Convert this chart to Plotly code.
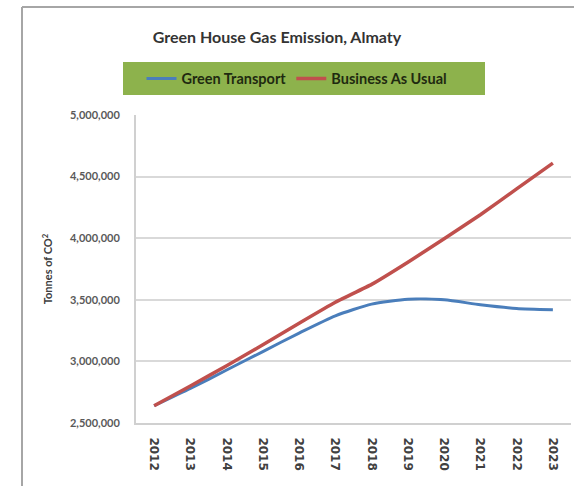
import plotly.graph_objects as go

years = ["2012", "2013", "2014", "2015", "2016", "2017", "2018", "2019", "2020", "2021", "2022", "2023"]
green_transport = [2640000, 2780000, 2930000, 3080000, 3230000, 3370000, 3465000, 3505000, 3500000, 3460000, 3430000, 3420000]
business_as_usual = [2640000, 2800000, 2965000, 3135000, 3310000, 3480000, 3625000, 3805000, 3995000, 4190000, 4400000, 4610000]
y_ticks = [2500000, 3000000, 3500000, 4000000, 4500000, 5000000]

W, H = 574, 486
L, R, T, B = 136, 571, 115, 423

def px(xp):
    return (xp - L) / (R - L)

def py(yp):
    return (B - yp) / (B - T)

fig = go.Figure()
fig.add_trace(go.Scatter(x=years, y=green_transport, mode="lines", name="Green Transport",
                         line=dict(color="#4A7EBB", width=3, shape="spline", smoothing=0.6)))
fig.add_trace(go.Scatter(x=years, y=business_as_usual, mode="lines", name="Business As Usual",
                         line=dict(color="#C0504D", width=3.5, shape="spline", smoothing=0.3)))

fig.update_layout(
    width=W, height=H,
    margin=dict(l=L, r=W - R, t=T, b=H - B, autoexpand=False),
    paper_bgcolor="white", plot_bgcolor="white",
    showlegend=True,
    legend=dict(orientation="h", x=px(297), xanchor="center", y=py(78.5), yanchor="middle",
                bgcolor="rgba(0,0,0,0)", font=dict(family="Lato", size=14.5, color="#1F2A10", weight="bold"),
                itemwidth=30, tracegroupgap=0),
    title=dict(text="Green House Gas Emission, Almaty", xref="container", x=277 / W, xanchor="center",
               yref="container", y=1 - 37 / H, yanchor="middle",
               font=dict(family="Lato", size=16, color="#333333", weight="bold")),
    xaxis=dict(type="category", range=[-0.5, 11.5], showgrid=False, showline=True,
               linecolor="#D0D0D0", linewidth=2, tickangle=90, ticks="outside", ticklen=10,
               tickcolor="rgba(0,0,0,0)",
               tickfont=dict(family="DejaVu Sans", size=12, color="#404040", weight="bold"),
               fixedrange=True),
    yaxis=dict(range=[2500000, 5000000], tickvals=y_ticks, tickformat=",d", showgrid=True,
               gridcolor="#D9D9D9", gridwidth=2, showline=True, linecolor="#D0D0D0", linewidth=2,
               ticks="outside", ticklen=12, tickcolor="rgba(0,0,0,0)", zeroline=False,
               tickfont=dict(family="Lato", size=11, color="#595959", weight="bold"),
               title=dict(text="Tonnes of CO<sup>2</sup>", standoff=15,
                          font=dict(family="Lato", size=11, color="#404040", weight="bold")),
               fixedrange=True),
    shapes=[
        dict(type="line", xref="paper", yref="paper", x0=px(22), x1=px(576), y0=py(7), y1=py(7),
             line=dict(color="#A6A6A6", width=2), layer="below"),
        dict(type="line", xref="paper", yref="paper", x0=px(22), x1=px(22), y0=py(7), y1=py(488),
             line=dict(color="#A6A6A6", width=2), layer="below"),
        dict(type="rect", xref="paper", yref="paper", x0=px(123), x1=px(485), y0=py(95), y1=py(62),
             line=dict(width=0), fillcolor="#8DB24C", layer="below"),
    ],
)

fig.write_html("out.html", config={"displayModeBar": False})

with open("out.html", "r", encoding="utf-8") as f:
    html = f.read()
html = html.replace("<head>", "<head><style>html,body{margin:0;padding:0;overflow:hidden;}</style>", 1)
with open("out.html", "w", encoding="utf-8") as f:
    f.write(html)
